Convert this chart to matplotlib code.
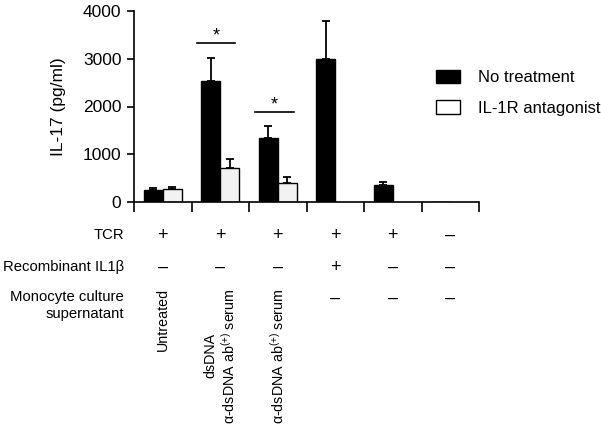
import matplotlib.pyplot as plt
import matplotlib.transforms as mtransforms
from matplotlib.patches import Patch
import numpy as np

plt.rcParams['font.family'] = ['Liberation Sans', 'DejaVu Sans']
plt.rcParams['mathtext.default'] = 'regular'

# values (pg/ml)
no_treat = [250, 2540, 1350, 2990, 350, 0]
no_treat_err = [50, 470, 250, 800, 60, 0]
antag = [265, 705, 405, np.nan, np.nan, np.nan]
antag_err = [55, 190, 110, np.nan, np.nan, np.nan]

tcr = ['+', '+', '+', '+', '+', '–']
il1b = ['–', '–', '–', '+', '–', '–']
mono = ['–', '–', '–']
mono_labels = ['Untreated', 'dsDNA\nα-dsDNA ab$^{(+)}$ serum', 'α-dsDNA ab$^{(+)}$ serum']

W, H = 601, 432
fig = plt.figure(figsize=(W / 100, H / 100), dpi=100)
ax = fig.add_axes([134 / W, 1 - 202 / H, (479 - 134) / W, (202 - 11) / H])

x = np.arange(6) + 0.5
w = 0.33
ax.bar(x - w / 2, no_treat, w, color='black', edgecolor='black', lw=1)
ax.bar(x + w / 2, antag, w, color='#f2f2f2', edgecolor='black', lw=1)

for xs, v, e in [(x - w / 2, no_treat, no_treat_err), (x + w / 2, antag, antag_err)]:
    for xi, vi, ei in zip(xs, v, e):
        if ei > 0:
            ax.errorbar(xi, vi, yerr=[[0], [ei]], color='black', capsize=3, lw=1.3, capthick=1.3)

# significance marks
for x0, x1, y in [(1.10, 1.76, 3330), (2.10, 2.78, 1890)]:
    ax.plot([x0, x1], [y, y], color='black', lw=1.2, clip_on=False)
    ax.text((x0 + x1) / 2, y - 40, '*', ha='center', va='bottom', fontsize=13)

ax.set_xlim(0, 6)
ax.set_ylim(0, 4000)
ax.set_yticks([0, 1000, 2000, 3000, 4000])
ax.set_xticks(np.arange(7))
ax.set_xticklabels([])
ax.tick_params(axis='x', direction='out', length=7, width=1.2)
ax.tick_params(axis='y', direction='out', length=5, width=1.2, labelsize=12.5, pad=4)
for s in ['top', 'right']:
    ax.spines[s].set_visible(False)
for s in ['left', 'bottom']:
    ax.spines[s].set_linewidth(1.2)
ax.set_ylabel('IL-17 (pg/ml)', fontsize=12.5, labelpad=12)

handles = [Patch(facecolor='black', edgecolor='black', label='No treatment'),
           Patch(facecolor='white', edgecolor='black', label='IL-1R antagonist')]
ax.legend(handles=handles, loc='upper left', bbox_to_anchor=(436 / W, 1 - 70 / H),
          bbox_transform=fig.transFigure, frameon=False, fontsize=12, handlelength=1.45,
          handleheight=0.85, labelspacing=0.9, handletextpad=1.1, borderaxespad=0, borderpad=0)

# condition table under the axis
tr = mtransforms.blended_transform_factory(ax.transData, fig.transFigure)
fs = 10.7
lx = 124 / W
fig.text(lx, 1 - 235 / H, 'TCR', ha='right', va='center', fontsize=fs)
fig.text(lx, 1 - 267 / H, 'Recombinant IL1β', ha='right', va='center', fontsize=fs)
fig.text(lx, 1 - 290 / H, 'Monocyte culture\nsupernatant', ha='right', va='top', fontsize=fs,
         linespacing=1.25)
for xi, a, b in zip(x, tcr, il1b):
    ax.text(xi, 1 - 235 / H, a, transform=tr, ha='center', va='center', fontsize=13)
    ax.text(xi, 1 - 267 / H, b, transform=tr, ha='center', va='center', fontsize=13)
for xi, m in zip(x[3:], mono):
    ax.text(xi, 1 - 298 / H, m, transform=tr, ha='center', va='center', fontsize=13)
for xi, lab in zip(x[:3], mono_labels):
    ax.text(xi, 1 - 288 / H, lab, transform=tr, ha='center', va='top', rotation=90,
            fontsize=10.3, multialignment='center', linespacing=1.15)

fig.savefig('out.png', dpi=100)
